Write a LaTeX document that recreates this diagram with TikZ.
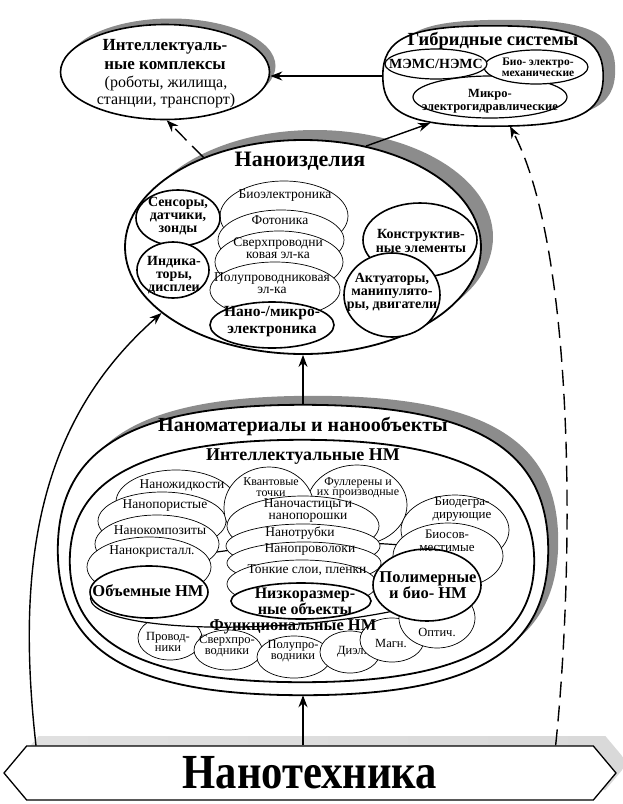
\documentclass[tikz,border=0pt]{standalone}
\usepackage{fontspec}
\setmainfont{Liberation Serif}
\usetikzlibrary{shapes.geometric,shapes.symbols,arrows.meta}
\newcommand{\fsz}[2]{\fontsize{#1pt}{#2pt}\selectfont}
\newcommand{\blob}[4][]{\path[#1] (#2.west)
  .. controls +(0,-#4) and +(-#3,0) .. (#2.north)
  .. controls +(#3,0) and +(0,-#4) .. (#2.east)
  .. controls +(0,#4) and +(#3,0) .. (#2.south)
  .. controls +(-#3,0) and +(0,#4) .. (#2.west) -- cycle;}

\begin{document}
\begin{tikzpicture}[x=1pt,y=-1pt,>={Stealth[length=12pt,width=9pt]},
    ov/.style={ellipse,draw,fill=white,inner sep=0pt,line width=0.7pt},
    bov/.style={ov,line width=1.6pt},
    box/.style={rectangle,inner sep=0pt},
    shd/.style={ellipse,fill=black!45,inner sep=0pt},
    txt/.style={inner sep=0pt,align=center,font=\fsz{13.5}{12}},
    btxt/.style={inner sep=0pt,align=center,font=\fsz{14}{13.5}\bfseries},
    arr/.style={->,line width=1.4pt},
    dsh/.style={arr,dash pattern=on 16pt off 8pt},
    banner/.style={signal,signal to=west and east,signal pointer angle=100,
      minimum width=612pt,minimum height=54pt,inner sep=0pt}]
  \useasboundingbox (0,0) rectangle (623,804);

  \node[shd,minimum width=209pt,minimum height=95pt] at (171,66) {};
  \node[bov,minimum width=209pt,minimum height=95pt] (ik) at (165,72) {};
  \node[btxt,font=\fsz{17}{19}\bfseries] at (165,55) {Интеллектуаль-\\ные комплексы};
  \node[txt,font=\fsz{16}{17}] at (166,92) {(роботы, жилища,\\станции, транспорт)};

  \node[box,minimum width=220pt,minimum height=100pt] (gss) at (505,70) {};
  \node[box,minimum width=220pt,minimum height=100pt] (gs) at (493,76) {};
  \blob[fill=black!45]{gss}{83.6}{38}
  \blob[draw,fill=white,line width=1.6pt]{gs}{83.6}{38}
  \node[btxt,font=\fsz{18.5}{20}\bfseries] at (493,41) {Гибридные системы};
  \node[ov,line width=1.2pt,minimum width=154pt,minimum height=42pt] (mg) at (490,97) {};
  \node[ov,line width=1.2pt,minimum width=104pt,minimum height=34pt] (bm) at (536,67) {};
  \node[ov,line width=1.2pt,minimum width=102pt,minimum height=30pt] (ms) at (436,64) {};
  \node[btxt] at (436,64) {МЭМС/НЭМС};
  \node[btxt,font=\fsz{11.5}{11}\bfseries] at (538,67) {Био- электро-\\механические};
  \node[btxt,font=\fsz{12.5}{13}\bfseries] at (490,101) {Микро-\\электрогидравлические};

  \node[shd,minimum width=356pt,minimum height=214pt] at (315,237) {};
  \node[bov,line width=1.8pt,minimum width=356pt,minimum height=214pt] (ni) at (303,247) {};
  \node[btxt,font=\fsz{22}{24}\bfseries] at (300,161) {Наноизделия};
  \node[ov,minimum width=128pt,minimum height=70pt] (be) at (284,216) {};
  \node[txt] at (285,196) {Биоэлектроника};
  \node[ov,minimum width=126pt,minimum height=60pt] (ph) at (281,240) {};
  \node[txt] at (280,220) {Фотоника};
  \node[ov,minimum width=128pt,minimum height=62pt] (sc) at (279,262) {};
  \node[txt] at (278,248) {Сверхпроводни\\ковая эл-ка};
  \node[ov,minimum width=130pt,minimum height=56pt] (sm) at (275,290) {};
  \node[txt] at (272,283) {Полупроводниковая\\эл-ка};
  \node[bov,minimum width=124pt,minimum height=46pt] (me) at (272,325) {};
  \node[btxt,font=\fsz{15.5}{17}\bfseries] at (272,322) {Нано-/микро-\\электроника};
  \node[bov,minimum width=114pt,minimum height=74pt] (ce) at (420,240) {};
  \node[btxt] at (421,241) {Конструктив-\\ные элементы};
  \node[bov,minimum width=96pt,minimum height=84pt] (ac) at (392,295) {};
  \node[btxt,font=\fsz{14}{13}\bfseries] at (392,292) {Актуаторы,\\манипулято-\\ры, двигатели};
  \node[bov,minimum width=84pt,minimum height=56pt] (sn) at (178,218) {};
  \node[btxt,font=\fsz{14}{13}\bfseries] at (178,216) {Сенсоры,\\датчики,\\зонды};
  \node[bov,minimum width=72pt,minimum height=56pt] (di) at (173,270) {};
  \node[btxt,font=\fsz{14}{13}\bfseries] at (174,275) {Индика-\\торы,\\дисплеи};

  \node[box,minimum width=490pt,minimum height=290pt] (nms) at (313,541) {};
  \node[box,minimum width=490pt,minimum height=290pt] (nm) at (303,550) {};
  \blob[fill=black!45]{nms}{171.5}{101.5}
  \blob[draw,fill=white,line width=1.8pt]{nm}{171.5}{101.5}
  \node[btxt,font=\fsz{20}{22}\bfseries] at (303,426) {Наноматериалы и нанообъекты};
  \node[box,minimum width=464pt,minimum height=242pt] (im) at (302,561) {};
  \blob[draw,fill=white,line width=1.8pt]{im}{157.8}{82.3}
  \node[btxt,font=\fsz{18}{20}\bfseries] at (303,457) {Интеллектуальные НМ};

  \node[ov,minimum width=64pt,minimum height=44pt] (f1) at (170,638) {};
  \node[ov,minimum width=68pt,minimum height=40pt] (f2) at (228,650) {};
  \node[ov,minimum width=74pt,minimum height=42pt] (f3) at (294,657) {};
  \node[ov,minimum width=60pt,minimum height=42pt] (f4) at (350,652) {};
  \node[ov,minimum width=64pt,minimum height=44pt] (f5) at (392,640) {};
  \node[ov,minimum width=76pt,minimum height=60pt] (f6) at (437,618) {};
  \node[ov,line width=1.2pt,rotate=4,minimum width=390pt,minimum height=80pt] (fn) at (285,585) {};
  \node[txt,font=\fsz{12.5}{11.5}] at (168,642) {Провод-\\ники};
  \node[txt,font=\fsz{12.5}{11.5}] at (227,646) {Сверхпро-\\водники};
  \node[txt,font=\fsz{12.5}{11.5}] at (293,651) {Полупро-\\водники};
  \node[txt,font=\fsz{12.5}{11}] at (352,652) {Диэл.};
  \node[txt,font=\fsz{12.5}{11}] at (391,643) {Магн.};
  \node[txt,font=\fsz{12.5}{11}] at (437,632) {Оптич.};

  \node[ov,minimum width=120pt,minimum height=64pt] (n1) at (176,502) {};
  \node[ov,minimum width=128pt,minimum height=58pt] (n2) at (162,521) {};
  \node[ov,minimum width=124pt,minimum height=58pt] (n3) at (157,544) {};
  \node[ov,minimum width=124pt,minimum height=60pt] (n4) at (149,567) {};
  \node[bov,minimum width=118pt,minimum height=52pt] (bl) at (149,592) {};
  \node[txt] at (182,485) {Наножидкости};
  \node[txt] at (165,506) {Нанопористые};
  \node[txt] at (160,530) {Нанокомпозиты};
  \node[txt] at (152,552) {Нанокристалл.};
  \node[btxt,font=\fsz{16.5}{18}\bfseries] at (148,591) {Объемные НМ};

  \node[ov,minimum width=100pt,minimum height=80pt] (fl) at (357,505) {};
  \node[ov,minimum width=90pt,minimum height=82pt] (qd) at (269,508) {};
  \node[ov,minimum width=152pt,minimum height=60pt] (np) at (303,526) {};
  \node[ov,minimum width=154pt,minimum height=44pt] (tb) at (303,546) {};
  \node[ov,minimum width=154pt,minimum height=42pt] (nw) at (304,563) {};
  \node[ov,minimum width=150pt,minimum height=48pt] (tf) at (302,584) {};
  \node[bov,minimum width=140pt,minimum height=36pt] (ld) at (301,601) {};
  \node[txt,font=\fsz{12}{10.5}] at (358,488) {Фуллерены и\\их производные};
  \node[txt,font=\fsz{12}{10.5}] at (271,487) {Квантовые\\точки};
  \node[txt,font=\fsz{13.5}{12}] at (308,511) {Наночастицы и\\нанопорошки};
  \node[txt] at (300,533) {Нанотрубки};
  \node[txt] at (310,550) {Нанопроволоки};
  \node[txt] at (307,570) {Тонкие слои, пленки};
  \node[btxt,font=\fsz{16}{13.5}\bfseries] at (305,601) {Низкоразмер-\\ные объекты};

  \node[ov,minimum width=108pt,minimum height=70pt] (bd) at (455,530) {};
  \node[ov,minimum width=110pt,minimum height=66pt] (bc) at (448,556) {};
  \node[bov,minimum width=108pt,minimum height=72pt] (pb) at (427,585) {};
  \node[txt,font=\fsz{13}{12.5}] at (462,509) {Биодегра-\\дирующие};
  \node[txt,font=\fsz{13}{12.5}] at (447,541) {Биосов-\\местимые};
  \node[btxt,font=\fsz{16.5}{15.5}\bfseries] at (428,585) {Полимерные\\и био- НМ};
  \node[btxt,font=\fsz{16.5}{18}\bfseries] at (293,627) {Функциональные НМ};

  \node[banner,left color=black!12,middle color=black!75,right color=black!15] at (322,763) {};
  \node[banner,draw,fill=white,line width=1.3pt] (nt) at (310,773)
    {\scalebox{0.87}[1]{\fsz{49}{50}\bfseries Нанотехника}};

  \draw[arr] (gs.west) -- (gs.west -| ik.east);
  \draw[arr] (ni.58) -- ([xshift=-63pt,yshift=3pt]gs.south);
  \draw[dsh] (ni.138) -- (ik.272);
  \draw[arr] (nm.north) -- (nm.north |- ni.south);
  \draw[arr] (nm.south |- nt.north) -- (nm.south);
  \draw[arr] ([xshift=10pt]nt.north west) .. controls (15,560) and (40,420) .. (ni.205);
  \draw[dsh] ([xshift=-38pt]nt.north east) .. controls (575,560) and (575,250) .. ([xshift=17pt]gs.south);
\end{tikzpicture}
\end{document}
